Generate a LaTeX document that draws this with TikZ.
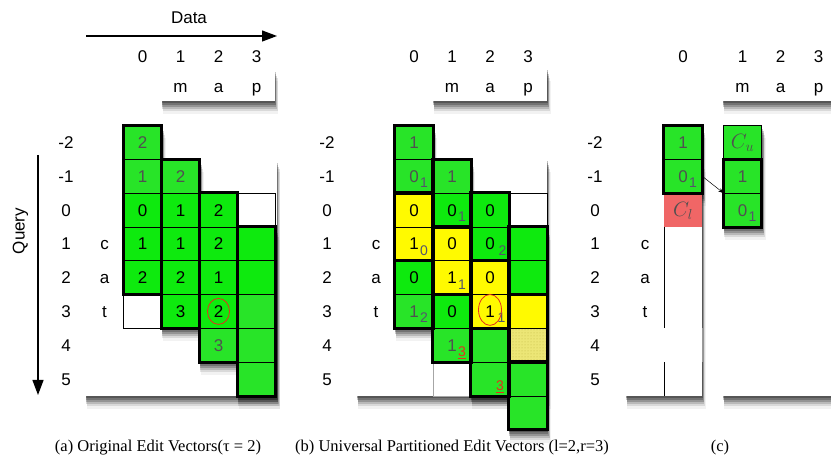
\documentclass[tikz,border=0pt]{standalone}
\usepackage{fontspec}
\setmainfont{Liberation Serif}
\setsansfont{Liberation Sans}
\usepackage{xcolor}
\usetikzlibrary{arrows.meta,positioning,patterns,backgrounds}

\definecolor{verdeVivo}{RGB}{14,234,14}
\definecolor{verdeFraco}{RGB}{40,228,40}
\definecolor{amareloVivo}{RGB}{255,250,0}
\definecolor{amareloFraco}{RGB}{236,230,118}
\definecolor{corPontos}{RGB}{196,186,70}
\definecolor{corSalmao}{RGB}{240,102,102}
\definecolor{cinzaTexto}{RGB}{80,80,80}
\definecolor{corIndice}{RGB}{85,85,108}
\definecolor{corVermelha}{RGB}{228,48,28}

% indices (subscritos) que ficam a direita do digito centrado
\newcommand{\indice}[2][1.5pt]{\rlap{\hspace{#1}\raisebox{-5.5pt}{\fontsize{14}{14}\selectfont\color{corIndice}#2}}}
\newcommand{\indiceV}[1]{\rlap{\hspace{1.5pt}\raisebox{-5.5pt}{\fontsize{14}{14}\selectfont\color{corVermelha}\underline{#1}}}}
% sombra difusa: varias camadas deslocadas para baixo
\newcommand{\sombra}[2]{%
    \foreach \d/\o in {2/.25,4/.22,6/.20,8/.15,10/.10,13/.05}
        \fill[black, opacity=\o] ([shift={(0.1*\d,\d)}]#1) rectangle ([shift={(0.3*\d,\d)}]#2);}

\tikzset{
    celula/.style={
        draw=black,
        line width=0.4pt,
        minimum width=38pt,
        minimum height=33.8pt,
        inner sep=0pt,
        text height=12.2pt,
        text depth=0pt
    },
    verde/.style={celula, fill=verdeVivo},
    fraco/.style={celula, fill=verdeFraco, text=cinzaTexto},
    amarelo/.style={celula, fill=amareloVivo},
    pontilhado/.style={celula, fill=amareloFraco, postaction={pattern=dots, pattern color=corPontos}},
    vazio/.style={celula, fill=white},
    vazioCinza/.style={vazio, draw=black!35},
    salmao/.style={celula, draw=none, fill=corSalmao, text=cinzaTexto},
    limite/.style={line width=3pt},
    rotulo/.style={inner sep=0pt, text height=12.2pt, text depth=0pt},
    legenda/.style={font=\rmfamily\fontsize{16.5}{18}\selectfont},
    marca/.style={draw=corVermelha, line width=0.8pt},
    seta/.style={-{Triangle[length=15pt,width=11pt]}, line width=1.2pt},
    ligacao/.style={-{Stealth[length=5pt,width=4pt]}, line width=0.5pt},
    caixa/.style={fill=white}
}

\begin{document}
\begin{tikzpicture}[x=1pt, y=-1pt, font=\sffamily\fontsize{17}{17}\selectfont]
    \useasboundingbox (0,0) rectangle (831,462);

    % eixos Data e Query
    \coordinate (dadosIni) at (86,36);
    \coordinate (dadosFim) at (277,36);
    \draw[seta] (dadosIni) -- (dadosFim);
    \node[rotulo] (dados) at (189,17) {Data};
    \coordinate (consultaIni) at (38,155);
    \coordinate (consultaFim) at (38,395);
    \draw[seta] (consultaIni) -- (consultaFim);
    \node[rotulo, rotate=90] (consulta) at (18.5,231) {Query};

    % (a) vetores originais
    \begin{scope}[shift={(142.5,210)}]
        \foreach \c in {0,...,3}
            \node[rotulo] (aCol\c) at ({38*\c},-154) {\c};
        \foreach \c/\l in {1/m,2/a,3/p}
            \node[rotulo] (aLetra\c) at ({38*\c},-124) {\l};
        \foreach \r in {-2,...,5}
            \node[rotulo] (aLin\r) at (-76.5,{33.8*\r}) {\r};
        \foreach \r/\l in {1/c,2/a,3/t}
            \node[rotulo] (aQ\r) at (-38,{33.8*\r}) {\l};

        \foreach \c/\r/\tipo/\txt in {
            0/-2/fraco/2, 0/-1/fraco/1, 0/0/verde/0, 0/1/verde/1, 0/2/verde/2, 0/3/vazio/{},
            1/-1/fraco/2, 1/0/verde/1, 1/1/verde/1, 1/2/verde/2, 1/3/verde/3,
            2/0/verde/2, 2/1/verde/2, 2/2/verde/1, 2/3/verde/2, 2/4/fraco/3,
            3/0/vazio/{}, 3/1/verde/{}, 3/2/verde/{}, 3/3/fraco/{}, 3/4/fraco/{}, 3/5/fraco/{}}
            \node[\tipo] (a\c\r) at ({38*\c},{33.8*\r}) {\txt};

        \foreach \c in {0,...,3} {
            \pgfmathtruncatemacro\ini{\c-2}
            \pgfmathtruncatemacro\fim{\c+2}
            \draw[limite] (a\c\ini.north west) rectangle (a\c\fim.south east);
        }
        \draw[marca] (a23) ellipse (11pt and 13pt);
    \end{scope}

    % (b) vetores particionados
    \begin{scope}[shift={(414,210)}]
        \foreach \c in {0,...,3}
            \node[rotulo] (bCol\c) at ({38*\c},-154) {\c};
        \foreach \c/\l in {1/m,2/a,3/p}
            \node[rotulo] (bLetra\c) at ({38*\c},-124) {\l};
        \foreach \r in {-2,...,5}
            \node[rotulo] (bLin\r) at (-87,{33.8*\r}) {\r};
        \foreach \r/\l in {1/c,2/a,3/t}
            \node[rotulo] (bQ\r) at (-38,{33.8*\r}) {\l};

        \foreach \c/\r/\tipo/\txt in {
            0/-2/fraco/1, 0/-1/fraco/0\indice{1}, 0/0/amarelo/0, 0/1/amarelo/1\indice{0}, 0/2/verde/0, 0/3/fraco/1\indice{2},
            1/-1/fraco/1, 1/0/verde/0\indice{1}, 1/1/amarelo/0, 1/2/amarelo/1\indice{1}, 1/3/verde/0, 1/4/fraco/1\indiceV{3}, 1/5/vazioCinza/{},
            2/0/verde/0, 2/1/verde/0\indice[4pt]{2}, 2/2/amarelo/0, 2/3/amarelo/1\indice[3pt]{1}, 2/4/fraco/{}, 2/5/fraco/\phantom{1}\indiceV{3},
            3/0/vazio/{}, 3/1/verde/{}, 3/2/verde/{}, 3/3/amarelo/{}, 3/4/pontilhado/{}, 3/5/fraco/{}, 3/6/fraco/{}}
            \node[\tipo] (b\c\r) at ({38*\c},{33.8*\r}) {\txt};

        \foreach \c in {0,...,3}
            \foreach \p in {0,1,2} {
                \pgfmathtruncatemacro\ini{\c-2+2*\p}
                \pgfmathtruncatemacro\fim{\ini+1}
                \draw[limite] (b\c\ini.north west) rectangle (b\c\fim.south east);
            }
        \draw[marca] ([yshift=1.5pt]b23) ellipse (11.5pt and 15.5pt);
    \end{scope}

    % (c) limites C_l e C_u
    \begin{scope}[shift={(683,210)}]
        \node[rotulo] (cCol0) at (0,-154) {0};
        \foreach \c/\l in {1/m,2/a,3/p} {
            \node[rotulo] (cCol\c) at ({21.5+38*\c},-154) {\c};
            \node[rotulo] (cLetra\c) at ({21.5+38*\c},-124) {\l};
        }
        \foreach \r in {-2,...,5}
            \node[rotulo] (cLin\r) at (-88,{33.8*\r}) {\r};
        \foreach \r/\l in {1/c,2/a,3/t}
            \node[rotulo] (cQ\r) at (-38,{33.8*\r}) {\l};

        \node[fraco] (c0-2) at (0,-67.6) {1};
        \node[fraco] (c0-1) at (0,-33.8) {0\indice{1}};
        \node[salmao] (c00) at (0,0) {\fontsize{21}{21}\selectfont$C_l$};
        \node[fraco, line width=0.6pt] (c1-2) at (59.5,-67.6) {\fontsize{21}{21}\selectfont$C_u$};
        \node[fraco] (c1-1) at (59.5,-33.8) {1};
        \node[fraco] (c10) at (59.5,0) {0\indice{1}};

        \draw[limite] (c0-2.north west) rectangle (c0-1.south east);
        \draw[limite] (c1-1.north west) rectangle (c10.south east);
        \draw[ligacao] (c0-1.east) -- (c10.north west);

        \draw[line width=0.5pt] (-19,16.9) -- (-19,118.3);
        \draw[line width=0.5pt] (-19,152.1) -- (-19,185.9);
        \draw[line width=0.5pt, black!40] (19,118.3) -- (19,152.1);
    \end{scope}

    % legendas
    \node[legenda] (legA) at (158,448) {(a) Original Edit Vectors(τ = 2)};
    \node[legenda] (legB) at (452,448) {(b) Universal Partitioned Edit Vectors (l=2,r=3)};
    \node[legenda] (legC) at (720,448) {(c)};

    % tabelas brancas, cabecalhos e sombras
    \begin{pgfonlayer}{background}
        \sombra{85.5,159.3}{276.5,395.9}
        \sombra{357,159.3}{547,395.9}
        \sombra{626,159.3}{702,395.9}
        \sombra{723,159.3}{840,395.9}
        \sombra{161.5,68}{274.5,101}
        \sombra{433,68}{547,101}
        \sombra{722.7,68}{840,101}
        \fill[caixa] (85.5,159.3) rectangle (276.5,395.9);
        \fill[caixa] (357,159.3) rectangle (547,395.9);
        \fill[caixa] (626,159.3) rectangle (702,395.9);
        \fill[caixa] (723,159.3) rectangle (840,395.9);
        \fill[caixa] (161.5,68) rectangle (274.5,101);
        \fill[caixa] (433,68) rectangle (547,101);
        \fill[caixa] (722.7,68) rectangle (840,101);

        \foreach \c in {0,...,3} {
            \pgfmathtruncatemacro\ini{\c-2}
            \pgfmathtruncatemacro\fim{\c+2}
            \pgfmathtruncatemacro\fimB{\c+3}
            \sombra{a\c\ini.north west}{a\c\fim.south east}
            \sombra{b\c\ini.north west}{b\c\fimB.south east}
        }
        \sombra{c0-2.north west}{c0-1.south east}
        \sombra{c1-2.north west}{c10.south east}
    \end{pgfonlayer}
\end{tikzpicture}
\end{document}
